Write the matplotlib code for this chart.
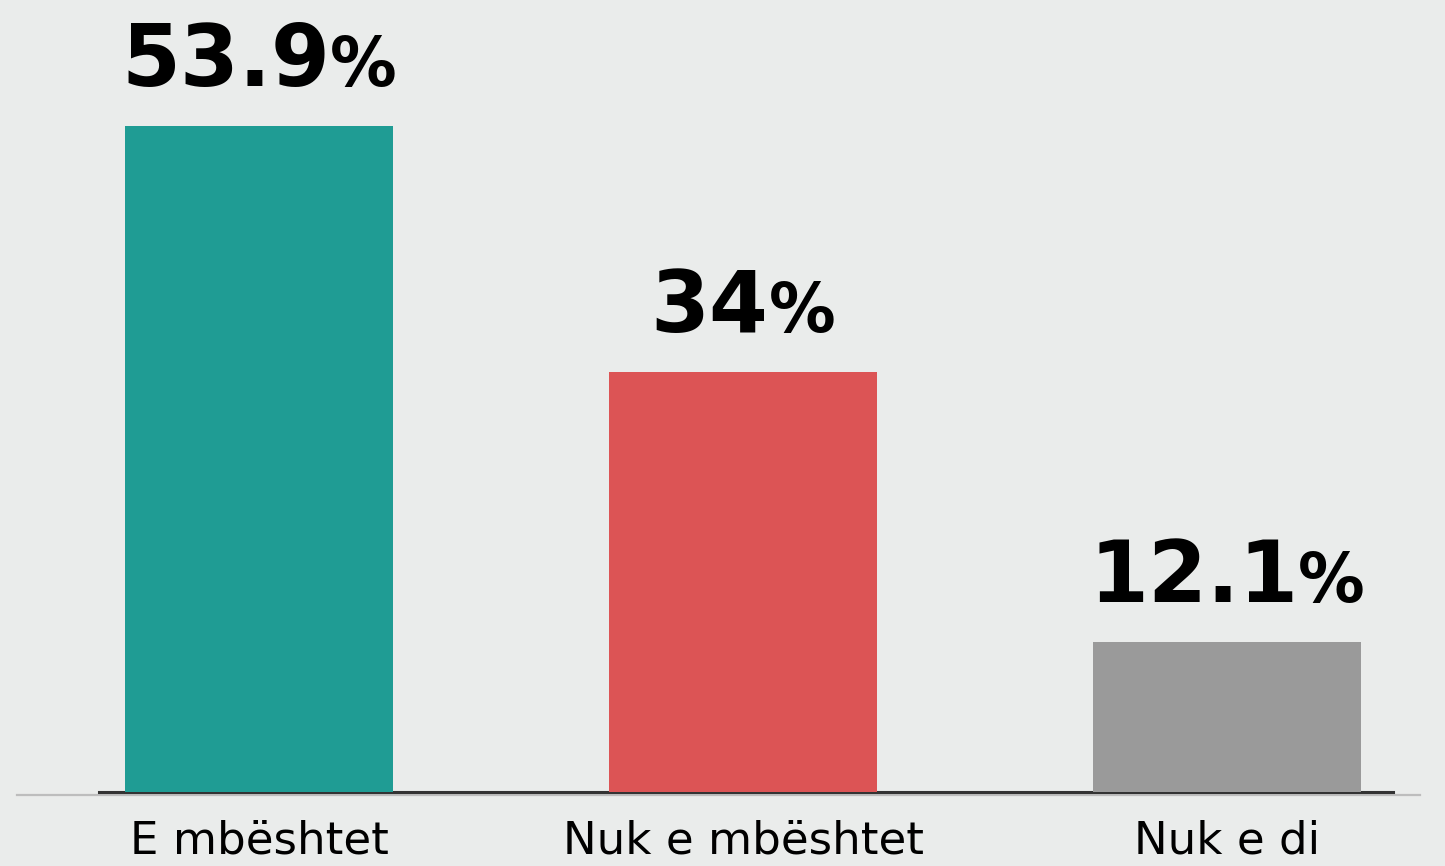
import matplotlib
matplotlib.use('Agg')
import matplotlib.pyplot as plt
from matplotlib.lines import Line2D

categories = ['E mbështet', 'Nuk e mbështet', 'Nuk e di']
values = [53.9, 34, 12.1]
value_labels = ['53.9', '34', '12.1']
colors = ['#1f9c94', '#dc5455', '#9a9a9a']

W, H = 1445, 866
fig = plt.figure(figsize=(W / 100, H / 100), dpi=100)
fig.patch.set_facecolor('#eaeceb')

# light grey full-width rule under the axis
fig.add_artist(Line2D([17 / W, 1420 / W], [1 - 795 / H, 1 - 795 / H], color='#bdbdbd', lw=1.6, zorder=1))

ax = fig.add_axes([99 / W, 1 - 792 / H, (1393 - 99) / W, 792 / H])
ax.patch.set_alpha(0)
ax.set_zorder(2)

x = range(len(values))
ax.bar(x, values, width=0.554, color=colors, zorder=3)
ax.set_xlim(-0.331, 2.343)
ax.set_ylim(0, 64.1)

for s in ['top', 'right', 'left']:
    ax.spines[s].set_visible(False)
ax.spines['bottom'].set_color('#333333')
ax.spines['bottom'].set_linewidth(2.2)
ax.set_yticks([])
ax.set_xticks(list(x))
ax.set_xticklabels(categories, fontsize=32.5, color='black', family='DejaVu Sans')
ax.tick_params(axis='x', length=0, pad=20)

# value labels: big number + smaller percent sign, centred together above each bar
off = 29
nums = []
pcts = []
for i, v in enumerate(values):
    t1 = ax.annotate(value_labels[i], (i, v), xytext=(0, off), textcoords='offset points',
                     ha='left', va='baseline', fontsize=61, fontweight='bold', color='black')
    t2 = ax.annotate('%', (i, v), xytext=(0, off), textcoords='offset points',
                     ha='left', va='baseline', fontsize=48, fontweight='bold', color='black')
    nums.append(t1)
    pcts.append(t2)

fig.canvas.draw()
r = fig.canvas.get_renderer()
for i, v in enumerate(values):
    w1 = nums[i].get_window_extent(r).width
    w2 = pcts[i].get_window_extent(r).width
    total = (w1 + w2) * 72 / fig.dpi
    nums[i].xyann = (-total / 2, off)
    pcts[i].xyann = (-total / 2 + w1 * 72 / fig.dpi, off)

fig.savefig('out.png', dpi=100, facecolor=fig.get_facecolor())
